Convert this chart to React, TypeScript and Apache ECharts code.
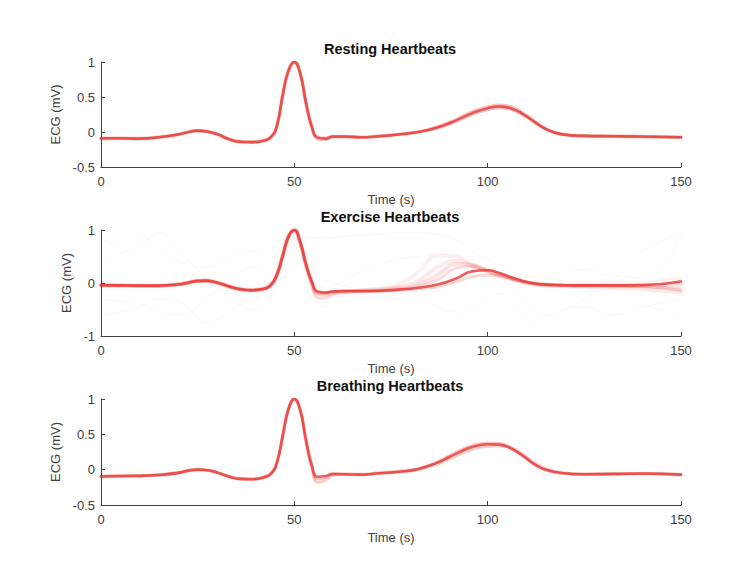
import React, { useEffect, useRef } from "react";
import * as echarts from "echarts";

// Sample times (s) shared by every beat trace
const TIME = [
  0, 5, 10, 15, 20, 23, 25, 27, 30, 33,
  36, 39, 42, 44, 45.5, 47, 48.5, 50, 51.5, 53,
  54.5, 56, 58, 60, 63, 67, 72, 77, 82, 87,
  92, 96, 100, 103, 106, 109, 112, 115, 119, 125,
  132, 140, 150,
];

// Resting heartbeats (mV)
const restingA = [
  -0.09, -0.09, -0.095, -0.075, -0.035, 0.005, 0.02, 0.01, -0.03, -0.1,
  -0.14, -0.145, -0.125, -0.07, 0.09, 0.53, 0.88, 1.0, 0.84, 0.42,
  0.08, -0.08, -0.095, -0.065, -0.065, -0.075, -0.06, -0.035, 0.0, 0.065,
  0.17, 0.27, 0.34, 0.365, 0.34, 0.26, 0.15, 0.045, -0.03, -0.055,
  -0.06, -0.065, -0.075,
];
const restingB = [
  -0.095, -0.095, -0.1, -0.08, -0.04, 0.0, 0.015, 0.005, -0.035, -0.105,
  -0.145, -0.15, -0.13, -0.075, 0.08, 0.5, 0.86, 0.99, 0.82, 0.4,
  0.06, -0.1, -0.11, -0.07, -0.07, -0.08, -0.065, -0.04, -0.005, 0.055,
  0.155, 0.25, 0.32, 0.345, 0.325, 0.25, 0.14, 0.04, -0.035, -0.06,
  -0.065, -0.07, -0.08,
];
const restingC = [
  -0.085, -0.085, -0.09, -0.07, -0.03, 0.01, 0.025, 0.015, -0.025, -0.095,
  -0.135, -0.14, -0.12, -0.065, 0.1, 0.55, 0.9, 1.0, 0.86, 0.44,
  0.09, -0.07, -0.085, -0.06, -0.06, -0.07, -0.055, -0.03, 0.005, 0.075,
  0.185, 0.29, 0.36, 0.385, 0.36, 0.275, 0.16, 0.05, -0.025, -0.05,
  -0.055, -0.06, -0.07,
];

// Exercise heartbeats (mV)
const exerciseA = [
  -0.04, -0.045, -0.05, -0.05, -0.025, 0.015, 0.04, 0.045, 0.01, -0.06,
  -0.115, -0.135, -0.11, -0.03, 0.16, 0.52, 0.88, 1.0, 0.78, 0.36,
  0.03, -0.16, -0.18, -0.16, -0.15, -0.15, -0.145, -0.125, -0.09, -0.03,
  0.09, 0.22, 0.24, 0.19, 0.11, 0.04, -0.01, -0.03, -0.04, -0.045,
  -0.045, -0.04, 0.03,
];
const exerciseB = [
  -0.045, -0.05, -0.055, -0.055, -0.03, 0.01, 0.035, 0.04, 0.0, -0.07,
  -0.125, -0.14, -0.115, -0.04, 0.14, 0.5, 0.86, 0.99, 0.75, 0.32,
  -0.02, -0.28, -0.29, -0.22, -0.18, -0.16, -0.15, -0.12, -0.06, 0.06,
  0.28, 0.31, 0.23, 0.16, 0.09, 0.03, -0.02, -0.04, -0.05, -0.055,
  -0.06, -0.07, -0.1,
];
const exerciseC = [
  -0.035, -0.04, -0.045, -0.045, -0.02, 0.02, 0.045, 0.05, 0.015, -0.05,
  -0.11, -0.13, -0.105, -0.025, 0.17, 0.54, 0.9, 1.0, 0.77, 0.34,
  0.0, -0.22, -0.23, -0.19, -0.17, -0.15, -0.12, -0.08, 0.03, 0.3,
  0.42, 0.32, 0.22, 0.14, 0.07, 0.02, -0.03, -0.05, -0.06, -0.07,
  -0.09, -0.12, -0.18,
];
const exerciseD = [
  -0.05, -0.05, -0.055, -0.06, -0.035, 0.005, 0.03, 0.035, -0.005, -0.075,
  -0.125, -0.14, -0.115, -0.035, 0.15, 0.51, 0.87, 1.0, 0.76, 0.35,
  0.01, -0.2, -0.21, -0.17, -0.16, -0.14, -0.1, -0.02, 0.2, 0.52,
  0.5, 0.35, 0.22, 0.15, 0.08, 0.03, 0.0, -0.02, -0.03, -0.03,
  -0.02, 0.0, 0.08,
];
const exerciseE = [
  -0.045, -0.05, -0.05, -0.055, -0.03, 0.01, 0.035, 0.04, 0.005, -0.065,
  -0.12, -0.14, -0.115, -0.035, 0.15, 0.5, 0.87, 0.99, 0.77, 0.35,
  0.02, -0.18, -0.19, -0.17, -0.155, -0.155, -0.15, -0.135, -0.11, -0.07,
  0.03, 0.12, 0.15, 0.13, 0.08, 0.03, -0.01, -0.035, -0.045, -0.05,
  -0.05, -0.06, -0.14,
];
const exerciseF = [
  -0.04, -0.045, -0.05, -0.05, -0.025, 0.015, 0.04, 0.045, 0.01, -0.06,
  -0.115, -0.135, -0.11, -0.03, 0.16, 0.52, 0.88, 1.0, 0.77, 0.35,
  0.02, -0.19, -0.2, -0.17, -0.155, -0.15, -0.14, -0.1, -0.03, 0.15,
  0.36, 0.34, 0.24, 0.17, 0.1, 0.03, -0.01, -0.035, -0.045, -0.05,
  -0.05, -0.05, -0.02,
];
// Stray, noisy beats during exercise
const exerciseNoise1 = [
  0.85, 0.7, 0.9, 0.6, 0.4, 0.35, 0.3, 0.3, 0.35, 0.45,
  0.55, 0.6, 0.55, 0.5, 0.5, 0.55, 0.65, 0.75, 0.8, 0.85,
  0.85, 0.85, 0.85, 0.85, 0.88, 0.9, 0.92, 0.95, 0.95, 0.92,
  0.8, 0.6, 0.45, 0.35, 0.25, 0.15, 0.1, 0.08, 0.05, 0.05,
  0.1, 0.6, 0.95,
];
const exerciseNoise2 = [
  -0.6, -0.55, -0.45, -0.3, -0.35, -0.5, -0.65, -0.75, -0.7, -0.55,
  -0.4, -0.3, -0.2, -0.1, 0.1, 0.4, 0.7, 0.85, 0.6, 0.2,
  -0.15, -0.4, -0.45, -0.4, -0.35, -0.3, -0.25, -0.2, -0.3, -0.45,
  -0.55, -0.5, -0.3, -0.2, -0.35, -0.6, -0.8, -0.7, -0.5, -0.45,
  -0.6, -0.45, -0.3,
];
const exerciseNoise3 = [
  0.3, 0.55, 0.7, 0.95, 0.6, 0.4, 0.25, 0.1, -0.1, -0.25,
  -0.4, -0.5, -0.4, -0.25, 0.0, 0.35, 0.7, 0.9, 0.7, 0.35,
  0.1, -0.05, -0.1, -0.05, 0.05, 0.2, 0.35, 0.45, 0.5, 0.55,
  0.5, 0.35, 0.25, 0.2, 0.15, 0.1, 0.1, 0.15, 0.2, 0.25,
  0.15, 0.1, 0.9,
];
const exerciseNoise4 = [
  -0.3, -0.35, -0.4, -0.55, -0.6, -0.55, -0.45, -0.3, -0.15, 0.05,
  0.2, 0.3, 0.25, 0.2, 0.3, 0.55, 0.8, 0.95, 0.8, 0.5,
  0.25, 0.1, 0.05, 0.0, -0.05, -0.1, -0.1, -0.05, 0.05, 0.2,
  0.3, 0.3, 0.2, 0.1, -0.1, -0.3, -0.5, -0.6, -0.55, -0.3,
  -0.1, -0.4, -0.6,
];

// Breathing heartbeats (mV)
const breathingA = [
  -0.095, -0.09, -0.088, -0.075, -0.045, -0.01, 0.0, -0.005, -0.04, -0.095,
  -0.13, -0.135, -0.11, -0.055, 0.1, 0.48, 0.86, 1.0, 0.85, 0.42,
  0.06, -0.1, -0.09, -0.06, -0.065, -0.07, -0.05, -0.03, 0.01, 0.1,
  0.23, 0.32, 0.36, 0.355, 0.3, 0.2, 0.08, 0.0, -0.045, -0.065,
  -0.06, -0.055, -0.07,
];
const breathingB = [
  -0.1, -0.095, -0.092, -0.08, -0.05, -0.015, -0.005, -0.01, -0.045, -0.1,
  -0.135, -0.14, -0.115, -0.06, 0.09, 0.46, 0.84, 0.99, 0.83, 0.39,
  0.02, -0.18, -0.15, -0.08, -0.07, -0.075, -0.055, -0.035, 0.0, 0.08,
  0.2, 0.29, 0.33, 0.34, 0.31, 0.22, 0.1, 0.015, -0.04, -0.065,
  -0.065, -0.06, -0.075,
];
const breathingC = [
  -0.09, -0.085, -0.083, -0.07, -0.04, -0.005, 0.005, 0.0, -0.035, -0.09,
  -0.125, -0.13, -0.105, -0.05, 0.11, 0.5, 0.87, 1.0, 0.86, 0.44,
  0.08, -0.13, -0.11, -0.065, -0.06, -0.065, -0.045, -0.025, 0.015, 0.11,
  0.25, 0.34, 0.375, 0.37, 0.31, 0.2, 0.075, -0.005, -0.05, -0.065,
  -0.06, -0.055, -0.065,
];

const TITLES = ["Resting Heartbeats", "Exercise Heartbeats", "Breathing Heartbeats"];
const Y_LIMITS = [
  { min: -0.5, max: 1, interval: 0.5 },
  { min: -1, max: 1, interval: 1 },
  { min: -0.5, max: 1, interval: 0.5 },
];

const RED = "rgb(232, 52, 48)";
const INK = "#404040";
const FONT = "'Liberation Sans', Arial, Helvetica, sans-serif";

const GRIDS = [
  { left: 101, top: 62, width: 580, height: 105 },
  { left: 101, top: 230, width: 580, height: 106 },
  { left: 101, top: 399, width: 580, height: 106 },
];
const Y_NAME_GAPS = [36, 25, 36];

function zip(values: number[]) {
  return TIME.map((t, i) => [t, values[i]]);
}

function trace(panel: number, values: number[], opacity: number, width = 2.6) {
  return {
    type: "line",
    xAxisIndex: panel,
    yAxisIndex: panel,
    data: zip(values),
    showSymbol: false,
    smooth: 0.5,
    silent: true,
    lineStyle: { color: RED, width, opacity, cap: "round", join: "round" },
  };
}

export default function App() {
  const ref = useRef<HTMLDivElement>(null);

  useEffect(() => {
    if (!ref.current) return;
    const chart = echarts.init(ref.current, undefined, { renderer: "svg" });

    const series = [
      // Stray exercise beats, drawn first and very faint
      trace(1, exerciseNoise1, 0.035, 1),
      trace(1, exerciseNoise2, 0.035, 1),
      trace(1, exerciseNoise3, 0.035, 1),
      trace(1, exerciseNoise4, 0.035, 1),

      trace(0, restingB, 0.3, 3),
      trace(0, restingC, 0.3, 3),
      trace(0, restingA, 0.75),

      trace(1, exerciseD, 0.07, 4),
      trace(1, exerciseC, 0.1, 4),
      trace(1, exerciseF, 0.14, 4),
      trace(1, exerciseB, 0.16, 3),
      trace(1, exerciseE, 0.2, 3),
      trace(1, exerciseA, 0.8),

      trace(2, breathingB, 0.25, 3),
      trace(2, breathingC, 0.3, 3),
      trace(2, breathingA, 0.75),
    ];

    const axisCommon = {
      axisLine: { show: true, onZero: false, lineStyle: { color: INK, width: 1 } },
      axisTick: { show: true, inside: true, length: 4, lineStyle: { color: INK, width: 1 } },
      splitLine: { show: false },
      nameLocation: "middle",
      nameTextStyle: { color: INK, fontSize: 13, fontFamily: FONT },
    };

    chart.setOption({
      animation: false,
      backgroundColor: "#ffffff",
      title: TITLES.map((text, i) => ({
        text,
        left: GRIDS[i].left + GRIDS[i].width / 2 - 1,
        top: GRIDS[i].top - 21,
        textAlign: "center",
        padding: 0,
        textStyle: { color: "#111111", fontSize: 14.5, fontWeight: "bold", fontFamily: FONT },
      })),
      grid: GRIDS.map((g) => ({ ...g, containLabel: false })),
      xAxis: GRIDS.map((_, i) => ({
        ...axisCommon,
        type: "value",
        gridIndex: i,
        min: 0,
        max: 150,
        interval: 50,
        name: "Time (s)",
        nameGap: 26,
        axisLabel: { color: INK, fontSize: 13, fontFamily: FONT, margin: 8 },
      })),
      yAxis: GRIDS.map((_, i) => ({
        ...axisCommon,
        type: "value",
        gridIndex: i,
        min: Y_LIMITS[i].min,
        max: Y_LIMITS[i].max,
        interval: Y_LIMITS[i].interval,
        name: "ECG (mV)",
        nameGap: Y_NAME_GAPS[i],
        axisLabel: { color: INK, fontSize: 13, fontFamily: FONT, margin: 6 },
      })),
      series,
    });

    return () => chart.dispose();
  }, []);

  return (
    <div
      ref={ref}
      style={{ position: "fixed", left: 0, top: 0, width: 750, height: 571, background: "#fff" }}
    />
  );
}
